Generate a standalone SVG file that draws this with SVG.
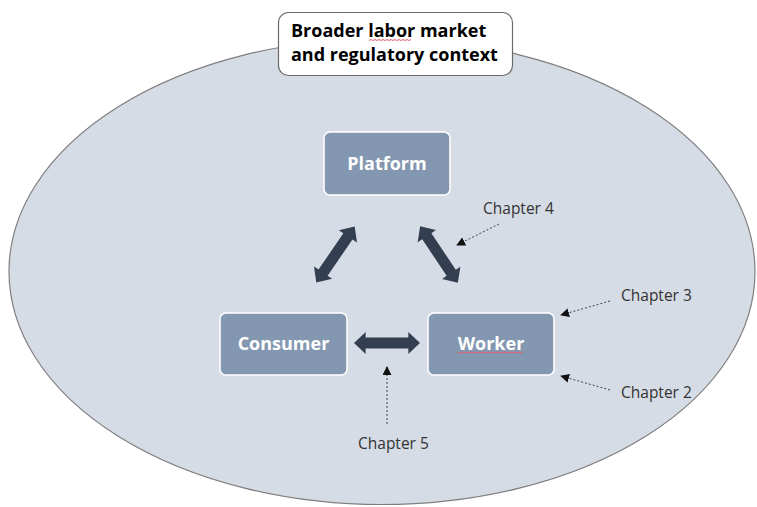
<svg xmlns="http://www.w3.org/2000/svg" width="757" height="507" viewBox="0 0 757 507">
  <style>
    .node rect { fill: #8497b0; stroke: #ffffff; stroke-width: 1.5; }
    .node text { font-family: "Open Sans", "Noto Sans", "DejaVu Sans", sans-serif; font-weight: bold; font-size: 18px; fill: #ffffff; text-anchor: middle; }
    .title text { font-family: "Open Sans", "Noto Sans", "DejaVu Sans", sans-serif; font-weight: bold; font-size: 18px; fill: #000000; }
    .label { font-family: "Open Sans", "Noto Sans", "DejaVu Sans", sans-serif; font-size: 15.5px; fill: #333333; }
    .dash { stroke: #444444; stroke-width: 1; stroke-dasharray: 2 2; fill: none; marker-end: url(#tip); }
    .block { fill: #333f50; }
    .squiggle { stroke: #e06070; stroke-width: 1; fill: none; }
  </style>
  <defs>
    <marker id="tip" viewBox="0 0 10 10" refX="9" refY="5" markerWidth="9" markerHeight="9" markerUnits="userSpaceOnUse" orient="auto">
      <path d="M0,0 L10,5 L0,10 Z" fill="#111111"/>
    </marker>
    <!-- double-headed block arrow, centred on the origin, pointing along x -->
    <path id="dbl" d="M-34,0 L-22,-11 L-22,-5.5 L22,-5.5 L22,-11 L34,0 L22,11 L22,5.5 L-22,5.5 L-22,11 Z"/>
  </defs>

  <!-- surrounding context -->
  <ellipse cx="382" cy="271.5" rx="373" ry="233" fill="#d6dce5" stroke="#7f7f7f" stroke-width="1.2"/>

  <g id="context-title" class="title">
    <rect x="278.5" y="12.5" width="234" height="63" rx="10" fill="#ffffff" stroke="#6b6b6b" stroke-width="1.2"/>
    <text x="291" y="37">Broader labor market</text>
    <text x="291" y="61">and regulatory context</text>
    <path class="squiggle" d="M369,40.5 l2,-1 l2,1 l2,-1 l2,1 l2,-1 l2,1 l2,-1 l2,1 l2,-1 l2,1 l2,-1 l2,1 l2,-1 l2,1 l2,-1 l2,1 l2,-1 l2,1 l2,-1 l2,1 l2,-1"/>
  </g>

  <g id="platform" class="node">
    <rect x="324" y="132" width="126" height="63" rx="6"/>
    <text x="387" y="170">Platform</text>
  </g>

  <g id="consumer" class="node">
    <rect x="220" y="313" width="127" height="62" rx="6"/>
    <text x="283.5" y="350">Consumer</text>
  </g>

  <g id="worker" class="node">
    <rect x="428" y="313" width="126" height="62" rx="6"/>
    <text x="491" y="350">Worker</text>
    <path class="squiggle" d="M457,353 l2,-1 l2,1 l2,-1 l2,1 l2,-1 l2,1 l2,-1 l2,1 l2,-1 l2,1 l2,-1 l2,1 l2,-1 l2,1 l2,-1 l2,1 l2,-1 l2,1 l2,-1 l2,1 l2,-1 l2,1 l2,-1 l2,1 l2,-1 l2,1 l2,-1 l2,1 l2,-1 l2,1 l2,-1 l2,1 l2,-1"/>
  </g>

  <g id="connectors">
    <use href="#dbl" class="block" transform="translate(335.5,254.5) rotate(-55.6)"/>
    <use href="#dbl" class="block" transform="translate(439,254.5) rotate(56.3)"/>
    <use href="#dbl" class="block" transform="translate(387,343) scale(0.97,1)"/>

    <line class="dash" x1="499" y1="224" x2="457" y2="245"/>
    <line class="dash" x1="610" y1="301" x2="561" y2="315"/>
    <line class="dash" x1="610" y1="390" x2="561" y2="376"/>
    <line class="dash" x1="387" y1="424" x2="387" y2="367"/>
  </g>

  <g id="chapter-labels">
    <text class="label" x="483" y="214">Chapter 4</text>
    <text class="label" x="621" y="301">Chapter 3</text>
    <text class="label" x="621" y="398">Chapter 2</text>
    <text class="label" x="358" y="449">Chapter 5</text>
  </g>
</svg>
